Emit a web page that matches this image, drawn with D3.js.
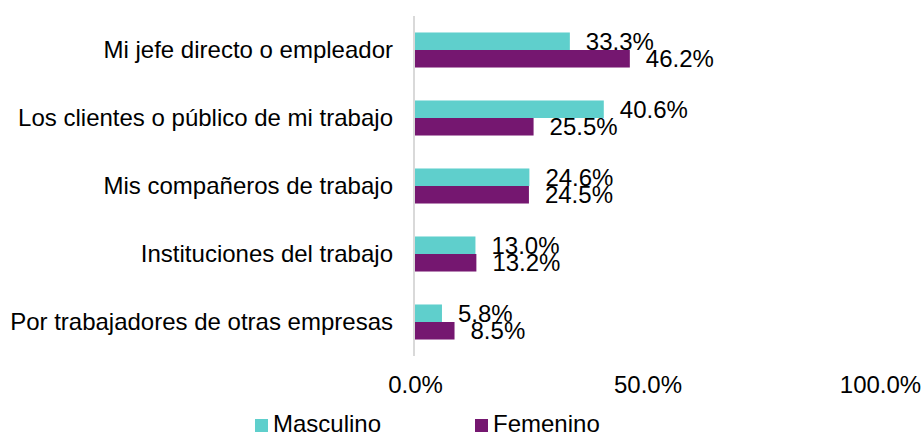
<!DOCTYPE html>
<html>
<head>
<meta charset="utf-8">
<script src="https://cdn.jsdelivr.net/npm/d3@7"></script>
<style>
  html, body { margin: 0; padding: 0; background: #ffffff; }
  svg { display: block; }
  text { font-family: "Liberation Sans", Arial, sans-serif; fill: #000; }
</style>
</head>
<body>
<svg id="chart" width="923" height="435"></svg>
<script>
const categories = [
  "Mi jefe directo o empleador",
  "Los clientes o público de mi trabajo",
  "Mis compañeros de trabajo",
  "Instituciones del trabajo",
  "Por trabajadores de otras empresas"
];
const seriesNames = ["Masculino", "Femenino"];
const masculino = [0.333, 0.406, 0.246, 0.130, 0.058];
const femenino  = [0.462, 0.255, 0.245, 0.132, 0.085];
const tickValues = [0, 0.5, 1.0];
const colors = ["#5fcfcc", "#751770"];

const series = [masculino, femenino];
const svg = d3.select("#chart");

const x = d3.scaleLinear().domain([0, 1]).range([415, 880]);
const y0 = d3.scaleBand().domain(categories).range([16, 356]).paddingInner(0.485).paddingOuter(0.2425);
const y1 = d3.scaleBand().domain(seriesNames).range([0, y0.bandwidth()]);

// axis line
svg.append("line")
  .attr("x1", 414).attr("x2", 414)
  .attr("y1", 16).attr("y2", 356)
  .attr("stroke", "#d9d9d9").attr("stroke-width", 2);

// category labels
const yAxis = d3.axisLeft(y0).tickSize(0).tickPadding(0);
const ga = svg.append("g").attr("transform", "translate(393,0)").call(yAxis);
ga.select(".domain").remove();
ga.selectAll("text")
  .attr("font-size", 24)
  .attr("font-family", "'Liberation Sans', Arial, sans-serif")
  .attr("fill", "#000")
  .attr("dy", null)
  .attr("y", 8);

// bars and labels
seriesNames.forEach((s, si) => {
  const g = svg.append("g");
  g.selectAll("rect").data(series[si]).join("rect")
    .attr("x", x(0))
    .attr("y", (d, i) => y0(categories[i]) + y1(s))
    .attr("width", d => x(d) - x(0))
    .attr("height", y1.bandwidth())
    .attr("fill", colors[si]);
  g.selectAll("text").data(series[si]).join("text")
    .attr("x", d => x(d) + 16)
    .attr("y", (d, i) => y0(categories[i]) + y1(s) + y1.bandwidth() / 2 + 8.5)
    .attr("font-size", 24)
    .text(d => d3.format(".1%")(d));
});

// x tick labels
const xAxis = d3.axisBottom(x).tickValues(tickValues).tickFormat(d3.format(".1%")).tickSize(0).tickPadding(0);
const gx = svg.append("g").attr("transform", "translate(0,0)").call(xAxis);
gx.select(".domain").remove();
gx.selectAll("text")
  .attr("font-size", 24)
  .attr("font-family", "'Liberation Sans', Arial, sans-serif")
  .attr("fill", "#000")
  .attr("dy", null)
  .attr("y", 393);

// legend
const legendX = [255, 475];
const lg = svg.append("g");
seriesNames.forEach((s, si) => {
  lg.append("rect")
    .attr("x", legendX[si]).attr("y", 419)
    .attr("width", 13).attr("height", 13)
    .attr("fill", colors[si]);
  lg.append("text")
    .attr("x", legendX[si] + 18).attr("y", 432)
    .attr("font-size", 24)
    .text(s);
});
</script>
</body>
</html>
